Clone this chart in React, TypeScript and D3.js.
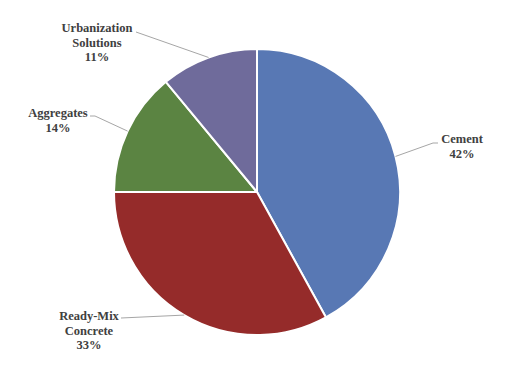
import React from "react";
import * as d3 from "d3";

const categories = ["Cement", "Ready-Mix Concrete", "Aggregates", "Urbanization Solutions"];
const values = [42, 33, 14, 11];
const labelLines = [["Cement", "42%"], ["Ready-Mix", "Concrete", "33%"], ["Aggregates", "14%"], ["Urbanization", "Solutions", "11%"]];
const colors = ["#5878B4", "#952B2A", "#5B8442", "#6F6B9B"];

const W = 510, H = 380;
const cx = 257, cy = 192, R = 143;
// label anchor (text center x, first baseline y) and leader path from pie edge
const labelPos = [
  { x: 462, y: 143, path: [[433, 143], [438, 143]] },
  { x: 89, y: 320, path: [[121, 318]] },
  { x: 58, y: 117, path: [[95, 116], [90, 116]] },
  { x: 97, y: 32, path: [[136, 32]] },
];

export default function App() {
  const pie = d3.pie<number>().sort(null).value((d) => d)(values);
  const arc = d3.arc<d3.PieArcDatum<number>>().innerRadius(0).outerRadius(R);
  return (
    <svg width={W} height={H} style={{ position: "absolute", left: 0, top: 0, background: "#fff" }}>
      <g transform={`translate(${cx},${cy})`}>
        {pie.map((p, i) => (
          <path key={categories[i]} d={arc(p) || ""} fill={colors[i]} stroke="#fff" strokeWidth={2} strokeLinejoin="round" />
        ))}
      </g>
      {pie.map((p, i) => {
        const mid = (p.startAngle + p.endAngle) / 2;
        const sx = cx + R * Math.sin(mid);
        const sy = cy - R * Math.cos(mid);
        const pts = [[sx, sy], ...labelPos[i].path] as [number, number][];
        return <path key={"l" + i} d={d3.line()(pts) || ""} fill="none" stroke="#A6A6A6" strokeWidth={1} />;
      })}
      {labelLines.map((lines, i) => (
        <text key={"t" + i} textAnchor="middle" fontWeight="bold" fontSize={12.5} fill="#404040" style={{ fontFamily: "Liberation Serif" }}>
          {lines.map((s, j) => (
            <tspan key={j} x={labelPos[i].x} y={labelPos[i].y + j * 14.5}>{s}</tspan>
          ))}
        </text>
      ))}
    </svg>
  );
}
